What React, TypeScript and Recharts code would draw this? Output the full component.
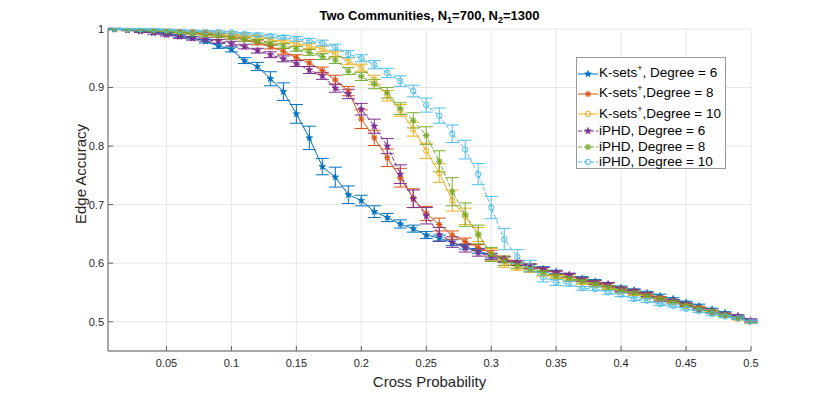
import React from "react";
import { LineChart, Line, XAxis, YAxis, CartesianGrid, ErrorBar } from "recharts";

// cross probability (x) for every measured point
const crossProb = [
  0.01, 0.02, 0.03, 0.04, 0.05, 0.06, 0.07, 0.08, 0.09, 0.1,
  0.11, 0.12, 0.13, 0.14, 0.15, 0.16, 0.17, 0.18, 0.19, 0.2,
  0.21, 0.22, 0.23, 0.24, 0.25, 0.26, 0.27, 0.28, 0.29, 0.3,
  0.31, 0.32, 0.33, 0.34, 0.35, 0.36, 0.37, 0.38, 0.39, 0.4,
  0.41, 0.42, 0.43, 0.44, 0.45, 0.46, 0.47, 0.48, 0.49, 0.5,
];

// K-sets+, degree 6
const ksets6 = [
  1.0, 0.999, 0.997, 0.995, 0.992, 0.988, 0.985, 0.979, 0.971, 0.965,
  0.946, 0.936, 0.915, 0.893, 0.855, 0.814, 0.765, 0.747, 0.717, 0.707,
  0.688, 0.678, 0.667, 0.659, 0.648, 0.643, 0.635, 0.628, 0.621, 0.613,
  0.607, 0.601, 0.596, 0.59, 0.585, 0.579, 0.574, 0.569, 0.564, 0.558,
  0.554, 0.549, 0.544, 0.539, 0.533, 0.527, 0.521, 0.515, 0.508, 0.501,
];
const ksets6Err = [
  0.001, 0.001, 0.001, 0.001, 0.002, 0.002, 0.002, 0.003, 0.004, 0.004,
  0.005, 0.007, 0.012, 0.015, 0.016, 0.02, 0.014, 0.017, 0.015, 0.009,
  0.01, 0.007, 0.007, 0.006, 0.006, 0.005, 0.005, 0.004, 0.004, 0.004,
  0.004, 0.003, 0.003, 0.004, 0.003, 0.003, 0.003, 0.003, 0.003, 0.003,
  0.002, 0.003, 0.003, 0.002, 0.002, 0.003, 0.002, 0.002, 0.002, 0.002,
];

// K-sets+, degree 8
const ksets8 = [
  1.0, 0.9995, 0.999, 0.998, 0.997, 0.996, 0.994, 0.992, 0.989, 0.986,
  0.982, 0.977, 0.97, 0.962, 0.951, 0.942, 0.929, 0.913, 0.894, 0.846,
  0.814, 0.78, 0.746, 0.711, 0.685, 0.666, 0.648, 0.637, 0.627, 0.617,
  0.608, 0.601, 0.595, 0.589, 0.583, 0.578, 0.572, 0.567, 0.562, 0.556,
  0.552, 0.547, 0.541, 0.536, 0.53, 0.524, 0.518, 0.512, 0.506, 0.5,
];
const ksets8Err = [
  0.001, 0.001, 0.001, 0.001, 0.001, 0.002, 0.002, 0.002, 0.003, 0.003,
  0.003, 0.004, 0.004, 0.005, 0.005, 0.006, 0.006, 0.008, 0.008, 0.016,
  0.013, 0.015, 0.016, 0.016, 0.012, 0.011, 0.007, 0.006, 0.005, 0.005,
  0.004, 0.004, 0.004, 0.003, 0.003, 0.003, 0.003, 0.003, 0.003, 0.003,
  0.003, 0.003, 0.002, 0.002, 0.002, 0.002, 0.002, 0.002, 0.002, 0.002,
];

// K-sets+, degree 10
const ksets10 = [
  1.0, 1.0, 0.9995, 0.999, 0.998, 0.997, 0.996, 0.995, 0.993, 0.991,
  0.989, 0.986, 0.982, 0.978, 0.975, 0.971, 0.966, 0.957, 0.945, 0.934,
  0.913, 0.886, 0.861, 0.829, 0.792, 0.754, 0.707, 0.68, 0.649, 0.615,
  0.6, 0.593, 0.588, 0.582, 0.576, 0.572, 0.567, 0.563, 0.558, 0.552,
  0.548, 0.543, 0.538, 0.533, 0.527, 0.521, 0.516, 0.511, 0.505, 0.5,
];
const ksets10Err = [
  0.001, 0.001, 0.001, 0.001, 0.001, 0.001, 0.001, 0.002, 0.002, 0.002,
  0.002, 0.003, 0.003, 0.003, 0.004, 0.004, 0.005, 0.005, 0.006, 0.006,
  0.008, 0.009, 0.01, 0.012, 0.013, 0.016, 0.018, 0.014, 0.012, 0.01,
  0.007, 0.005, 0.004, 0.004, 0.003, 0.003, 0.003, 0.003, 0.003, 0.003,
  0.003, 0.003, 0.002, 0.002, 0.002, 0.002, 0.002, 0.002, 0.002, 0.002,
];

// iPHD, degree 6
const iphd6 = [
  1.0, 0.998, 0.996, 0.993, 0.99, 0.987, 0.984, 0.982, 0.979, 0.975,
  0.97, 0.963, 0.956, 0.949, 0.941, 0.93, 0.92, 0.899, 0.889, 0.863,
  0.834, 0.8, 0.752, 0.71, 0.681, 0.649, 0.636, 0.626, 0.618, 0.611,
  0.606, 0.6, 0.594, 0.589, 0.584, 0.58, 0.572, 0.567, 0.564, 0.555,
  0.552, 0.546, 0.538, 0.536, 0.53, 0.521, 0.517, 0.513, 0.51, 0.503,
];
const iphd6Err = [
  0.001, 0.001, 0.002, 0.002, 0.002, 0.003, 0.003, 0.003, 0.003, 0.004,
  0.004, 0.004, 0.005, 0.005, 0.005, 0.006, 0.006, 0.007, 0.008, 0.01,
  0.012, 0.013, 0.016, 0.015, 0.014, 0.012, 0.009, 0.007, 0.006, 0.005,
  0.005, 0.004, 0.004, 0.004, 0.003, 0.003, 0.003, 0.003, 0.003, 0.003,
  0.003, 0.003, 0.003, 0.002, 0.002, 0.002, 0.002, 0.002, 0.002, 0.002,
];

// iPHD, degree 8
const iphd8 = [
  1.0, 0.999, 0.998, 0.997, 0.996, 0.994, 0.992, 0.99, 0.988, 0.985,
  0.982, 0.979, 0.975, 0.971, 0.966, 0.96, 0.953, 0.947, 0.928, 0.919,
  0.906, 0.891, 0.864, 0.844, 0.818, 0.774, 0.722, 0.683, 0.649, 0.615,
  0.604, 0.596, 0.59, 0.584, 0.578, 0.574, 0.569, 0.564, 0.559, 0.553,
  0.549, 0.544, 0.539, 0.534, 0.528, 0.522, 0.517, 0.511, 0.506, 0.5,
];
const iphd8Err = [
  0.001, 0.001, 0.001, 0.001, 0.001, 0.001, 0.002, 0.002, 0.002, 0.002,
  0.003, 0.003, 0.003, 0.004, 0.004, 0.005, 0.005, 0.006, 0.006, 0.007,
  0.008, 0.009, 0.01, 0.013, 0.015, 0.018, 0.024, 0.02, 0.016, 0.012,
  0.008, 0.005, 0.004, 0.004, 0.003, 0.003, 0.003, 0.003, 0.003, 0.003,
  0.003, 0.003, 0.002, 0.002, 0.002, 0.002, 0.002, 0.002, 0.002, 0.002,
];

// iPHD, degree 10
const iphd10 = [
  1.0, 1.0, 1.0, 0.9995, 0.999, 0.998, 0.997, 0.996, 0.995, 0.994,
  0.992, 0.99, 0.988, 0.986, 0.983, 0.98, 0.976, 0.969, 0.957, 0.95,
  0.939, 0.925, 0.911, 0.894, 0.87, 0.852, 0.821, 0.794, 0.752, 0.695,
  0.641, 0.611, 0.595, 0.576, 0.567, 0.565, 0.557, 0.556, 0.55, 0.546,
  0.539, 0.536, 0.53, 0.527, 0.522, 0.518, 0.513, 0.509, 0.506, 0.5,
];
const iphd10Err = [
  0.001, 0.001, 0.001, 0.001, 0.001, 0.001, 0.001, 0.001, 0.002, 0.002,
  0.002, 0.003, 0.003, 0.003, 0.004, 0.004, 0.005, 0.005, 0.006, 0.006,
  0.007, 0.008, 0.009, 0.01, 0.012, 0.013, 0.015, 0.016, 0.018, 0.019,
  0.018, 0.012, 0.01, 0.008, 0.005, 0.004, 0.003, 0.003, 0.003, 0.003,
  0.003, 0.003, 0.002, 0.002, 0.002, 0.002, 0.002, 0.002, 0.002, 0.002,
];

const xTicks = [0.05, 0.1, 0.15, 0.2, 0.25, 0.3, 0.35, 0.4, 0.45, 0.5];
const yTicks = [0.5, 0.6, 0.7, 0.8, 0.9, 1];

const seriesNames = [
  "K-sets+, Degree = 6",
  "K-sets+,Degree = 8",
  "K-sets+,Degree = 10",
  "iPHD, Degree = 6",
  "iPHD, Degree = 8",
  "iPHD, Degree = 10",
];

const series = [
  { key: "k6", name: seriesNames[0], values: ksets6, errors: ksets6Err, color: "#0072BD", marker: "star", dashed: false },
  { key: "k8", name: seriesNames[1], values: ksets8, errors: ksets8Err, color: "#D95319", marker: "asterisk", dashed: false },
  { key: "k10", name: seriesNames[2], values: ksets10, errors: ksets10Err, color: "#EDB120", marker: "circle", dashed: false },
  { key: "i6", name: seriesNames[3], values: iphd6, errors: iphd6Err, color: "#7E2F8E", marker: "star", dashed: true },
  { key: "i8", name: seriesNames[4], values: iphd8, errors: iphd8Err, color: "#77AC30", marker: "asterisk", dashed: true },
  { key: "i10", name: seriesNames[5], values: iphd10, errors: iphd10Err, color: "#4DBEEE", marker: "circle", dashed: true },
];

const data = crossProb.map((p, i) => {
  const row: Record<string, number> = { p };
  series.forEach((s) => {
    row[s.key] = s.values[i];
    row[s.key + "Err"] = s.errors[i];
  });
  return row;
});

const FONT = '"Liberation Sans", Arial, Helvetica, sans-serif';

function starPath(cx: number, cy: number, r: number) {
  let d = "";
  for (let k = 0; k < 10; k++) {
    const a = -Math.PI / 2 + (k * Math.PI) / 5;
    const rr = k % 2 === 0 ? r : r * 0.4;
    d += (k === 0 ? "M" : "L") + (cx + rr * Math.cos(a)).toFixed(2) + "," + (cy + rr * Math.sin(a)).toFixed(2);
  }
  return d + "Z";
}

function Marker({ shape, cx, cy, color }: { shape: string; cx: number; cy: number; color: string }) {
  if (shape === "star") {
    return <path d={starPath(cx, cy, 3.6)} fill={color} stroke={color} strokeWidth={0.6} />;
  }
  if (shape === "asterisk") {
    const a = 3.2;
    const b = 2.3;
    return (
      <g stroke={color} strokeWidth={1.1}>
        <line x1={cx - a} y1={cy} x2={cx + a} y2={cy} />
        <line x1={cx} y1={cy - a} x2={cx} y2={cy + a} />
        <line x1={cx - b} y1={cy - b} x2={cx + b} y2={cy + b} />
        <line x1={cx - b} y1={cy + b} x2={cx + b} y2={cy - b} />
      </g>
    );
  }
  return <circle cx={cx} cy={cy} r={2.7} fill="none" stroke={color} strokeWidth={1} />;
}

function LegendLabel({ text }: { text: string }) {
  const parts = text.split("+");
  if (parts.length === 1) return <>{text}</>;
  return (
    <>
      {parts[0]}
      <span style={{ fontSize: 9, position: "relative", top: -6 }}>+</span>
      {parts[1]}
    </>
  );
}

function ChartLegend() {
  const rowCenters = [72.5, 92.5, 113, 130, 145.5, 161];
  return (
    <div
      style={{
        position: "absolute",
        left: 576,
        top: 57,
        width: 150,
        height: 112,
        border: "1px solid #9a9a9a",
        background: "#fff",
        boxSizing: "border-box",
      }}
    >
      {series.map((s, i) => (
        <div
          key={s.key}
          style={{
            position: "absolute",
            left: 0,
            top: rowCenters[i] - 57 - 9,
            height: 18,
            display: "flex",
            alignItems: "center",
            whiteSpace: "nowrap",
            fontSize: 13.5,
            color: "#000",
          }}
        >
          <svg width={22} height={18} style={{ display: "block" }}>
            <line x1={1} y1={9} x2={21} y2={9} stroke={s.color} strokeWidth={1} strokeDasharray={s.dashed ? "4 2" : undefined} />
            <Marker shape={s.marker} cx={11} cy={9} color={s.color} />
          </svg>
          <span style={{ lineHeight: "18px" }}>
            <LegendLabel text={s.name} />
          </span>
        </div>
      ))}
    </div>
  );
}

export default function App() {
  return (
    <div style={{ position: "absolute", left: 0, top: 0, width: 830, height: 395, background: "#fff", fontFamily: FONT }}>
      <LineChart width={830} height={395} data={data} margin={{ top: 29, right: 79, bottom: 0, left: 0 }}>
        <CartesianGrid stroke="#e6e6e6" strokeWidth={1} />
        <XAxis
          dataKey="p"
          type="number"
          domain={[0.005, 0.5]}
          ticks={xTicks}
          allowDataOverflow
          height={44}
          tickSize={-5}
          tickMargin={13}
          tickFormatter={(v: number) => `${v}`}
          tick={{ fontSize: 11, fill: "#262626", fontFamily: FONT }}
          stroke="#5e5e5e"
          tickLine={{ stroke: "#5e5e5e" }}
        />
        <YAxis
          type="number"
          domain={[0.45, 1]}
          ticks={yTicks}
          allowDataOverflow
          width={108}
          tickSize={-5}
          tickMargin={9}
          tickFormatter={(v: number) => `${v}`}
          tick={{ fontSize: 11, fill: "#262626", fontFamily: FONT }}
          stroke="#5e5e5e"
          tickLine={{ stroke: "#5e5e5e" }}
        />
        {series.map((s) => (
          <Line
            key={s.key}
            type="linear"
            dataKey={s.key}
            name={s.name}
            stroke={s.color}
            strokeWidth={1}
            strokeDasharray={s.dashed ? "4 2" : undefined}
            isAnimationActive={false}
            activeDot={false}
            dot={(props: any) => (
              <Marker key={`${s.key}-${props.index}`} shape={s.marker} cx={props.cx} cy={props.cy} color={s.color} />
            )}
          >
            <ErrorBar dataKey={s.key + "Err"} direction="y" width={6.5} stroke={s.color} strokeWidth={1} isAnimationActive={false} />
          </Line>
        ))}
      </LineChart>

      <div
        style={{
          position: "absolute",
          left: 108,
          width: 643,
          top: 9,
          textAlign: "center",
          fontSize: 13,
          fontWeight: "bold",
          lineHeight: "13px",
          color: "#000",
          whiteSpace: "nowrap",
        }}
      >
        Two Communities, N<span style={{ fontSize: 9, position: "relative", top: 3 }}>1</span>=700, N
        <span style={{ fontSize: 9, position: "relative", top: 3 }}>2</span>=1300
      </div>

      <div
        style={{
          position: "absolute",
          left: 108,
          width: 643,
          top: 374,
          textAlign: "center",
          fontSize: 15,
          lineHeight: "15px",
          color: "#262626",
          whiteSpace: "nowrap",
        }}
      >
        Cross Probability
      </div>

      <div
        style={{
          position: "absolute",
          left: 80,
          top: 174,
          transform: "translate(-50%, -50%) rotate(-90deg)",
          fontSize: 15,
          lineHeight: "15px",
          color: "#262626",
          whiteSpace: "nowrap",
        }}
      >
        Edge Accuracy
      </div>

      <ChartLegend />
    </div>
  );
}
